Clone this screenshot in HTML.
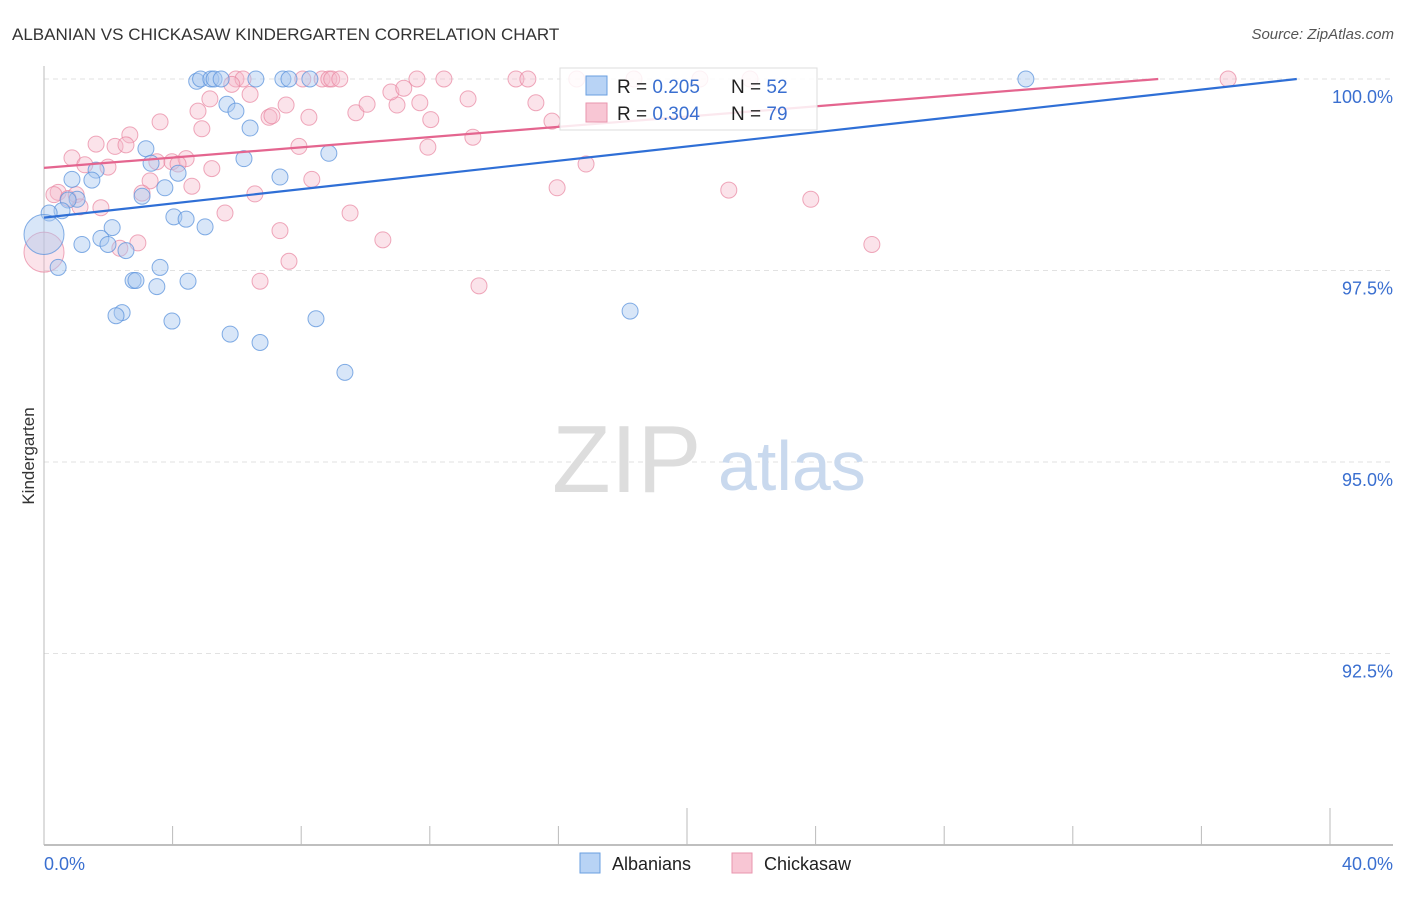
<!DOCTYPE html>
<html><head><meta charset="utf-8"><style>
body{margin:0;background:#fff;font-family:"Liberation Sans",sans-serif}
svg text{font-family:"Liberation Sans",sans-serif}
</style></head><body>
<svg id="c" width="1406" height="892" xmlns="http://www.w3.org/2000/svg">
<text x="12" y="40" font-size="17" fill="#333">ALBANIAN VS CHICKASAW KINDERGARTEN CORRELATION CHART</text>
<text x="1394" y="39" font-size="15" fill="#555" text-anchor="end" font-style="italic">Source: ZipAtlas.com</text>
<text x="34" y="456" font-size="17" fill="#333" text-anchor="middle" transform="rotate(-90 34 456)">Kindergarten</text>
<g id="grid"></g>
<text x="552" y="492" font-size="96" fill="#ddd" font-family="Liberation Serif">ZIP</text>
<text x="718" y="490" font-size="70" fill="#c9d9ee">atlas</text>
<g id="pts"></g>
<g id="lines"></g>
<g>
<rect x="560" y="68" width="257" height="62" fill="#fff" fill-opacity="0.85" stroke="#ddd"/>
<rect x="586" y="76" width="21" height="19" fill="#b8d3f5" stroke="#6a9fe0"/>
<rect x="586" y="103" width="21" height="19" fill="#f8c6d4" stroke="#e995ae"/>
<text x="617" y="93" font-size="19" fill="#222">R = <tspan fill="#3a6fd0">0.205</tspan></text>
<text x="731" y="93" font-size="19" fill="#222">N = <tspan fill="#3a6fd0">52</tspan></text>
<text x="617" y="120" font-size="19" fill="#222">R = <tspan fill="#3a6fd0">0.304</tspan></text>
<text x="731" y="120" font-size="19" fill="#222">N = <tspan fill="#3a6fd0">79</tspan></text>
</g>
<g>
<rect x="580" y="853" width="20" height="20" fill="#b8d3f5" stroke="#6a9fe0"/>
<text x="612" y="870" font-size="18" fill="#222">Albanians</text>
<rect x="732" y="853" width="20" height="20" fill="#f8c6d4" stroke="#e995ae"/>
<text x="764" y="870" font-size="18" fill="#222">Chickasaw</text>
</g>
</svg>
<script>
const xTicks=[0,4,8,12,16,20,24,28,32,36,40];
const yTicks=[100,97.5,95,92.5];
const yTickLabels=["100.0%","97.5%","95.0%","92.5%"];
const xLabels=["0.0%","40.0%"];
const albX=[4.75,4.87,5.19,5.29,5.51,6.59,7.43,7.62,8.27,30.54,5.69,5.97,6.41,6.22,8.86,7.34,3.17,3.33,4.17,3.76,3.05,1.62,1.49,0.87,1.03,0.75,0.56,0.16,0,4.04,4.42,5.01,2.12,1.77,1.18,1.99,2.55,0.44,3.61,2.77,2.86,3.51,4.48,18.23,2.43,2.24,3.98,8.46,5.79,6.72,9.36];
const albY=[99.97,100,100,100,100,100,100,100,100,100,99.67,99.58,99.36,98.96,99.03,98.72,99.09,98.9,98.77,98.58,98.47,98.81,98.68,98.69,98.43,98.42,98.28,98.25,97.97,98.2,98.17,98.07,98.06,97.92,97.84,97.84,97.76,97.54,97.54,97.37,97.37,97.29,97.36,96.97,96.95,96.91,96.84,96.87,96.67,96.56,96.17];
const albR=[8,8,8,8,8,8,8,8,8,8,8,8,8,8,8,8,8,8,8,8,8,8,8,8,8,8,8,8,20,8,8,8,8,8,8,8,8,8,8,8,8,8,8,8,8,8,8,8,8,8,8];
const chkX=[5.97,6.19,8.05,8.65,8.86,8.95,9.2,11.6,12.44,14.68,15.05,16.57,18.35,20.4,21.96,36.83,5.16,4.79,5.84,6.41,7.53,7.0,7.09,8.24,9.7,10.05,10.98,10.79,11.19,11.69,12.03,13.19,15.3,15.8,3.61,4.91,2.67,1.62,2.21,2.55,5.22,7.93,11.94,13.34,16.86,0.87,1.27,1.99,3.51,3.98,4.42,4.17,3.3,4.6,8.33,15.96,21.3,23.85,0.44,0.31,0.75,1.0,1.12,1.77,3.05,6.56,5.63,9.52,7.34,10.54,25.75,2.92,2.36,0,7.62,6.72,13.53];
const chkY=[100,100,100,100,100,100,100,100,100,100,100,100,100,100,100,100,99.74,99.58,99.93,99.8,99.66,99.5,99.52,99.5,99.56,99.67,99.66,99.83,99.88,99.69,99.47,99.74,99.69,99.45,99.44,99.35,99.27,99.15,99.12,99.14,98.83,99.12,99.11,99.24,98.89,98.97,98.88,98.85,98.92,98.92,98.96,98.89,98.67,98.6,98.69,98.58,98.55,98.43,98.52,98.49,98.44,98.49,98.33,98.32,98.51,98.5,98.25,98.25,98.02,97.9,97.84,97.86,97.79,97.74,97.62,97.36,97.3];
const chkR=chkY.map((v,i)=>chkX[i]===0?20:8);
const X0=44,X1=1330,Y100=79,PXPER=76.6;
const xs=v=>X0+(v/40)*(X1-X0);
const ys=v=>Y100+(100-v)*PXPER;
const NS="http://www.w3.org/2000/svg";
function mk(t,a,p){const e=document.createElementNS(NS,t);for(const k in a)e.setAttribute(k,a[k]);p.appendChild(e);return e;}
const grid=document.getElementById('grid');
yTicks.forEach((t,i)=>{
 const l=mk('line',{x1:X0,x2:1393,y1:ys(t),y2:ys(t),stroke:'#e2e2e2','stroke-dasharray':'5,4'},grid);
 
 
 const tx=mk('text',{x:1393,y:ys(t)+24,'font-size':18,fill:'#3a6fd0','text-anchor':'end'},grid);
 tx.textContent=yTickLabels[i];
 
 
});
const ax=mk('line',{x1:X0,x2:1393,y1:845,y2:845,stroke:'#aaa','stroke-width':1.5},grid);


const ay=mk('line',{x1:X0,x2:X0,y1:66,y2:845,stroke:'#bbb'},grid);


xTicks.forEach(t=>{
 const major=(t===20||t===40);
 const l=mk('line',{x1:xs(t),x2:xs(t),y1:major?808:826,y2:845,stroke:'#bbb'},grid);
 
 
});
[[0,'start',44],[40,'end',1393]].forEach((d,i)=>{
 const tx=mk('text',{x:d[2],y:870,'font-size':18,fill:'#3a6fd0','text-anchor':d[1]},grid);
 tx.textContent=xLabels[i];
 
 
});
const pts=document.getElementById('pts');
chkX.forEach((v,i)=>{
 const c=mk('circle',{cx:xs(v),cy:ys(chkY[i]),r:chkR[i],fill:'#f6b8ca','fill-opacity':0.4,stroke:'#e8859f','stroke-opacity':0.7},pts);
 
 
});
albX.forEach((v,i)=>{
 const c=mk('circle',{cx:xs(v),cy:ys(albY[i]),r:albR[i],fill:'#a9c8f0','fill-opacity':0.45,stroke:'#5b93dc','stroke-opacity':0.75},pts);
 
 
});
const lines=document.getElementById('lines');
function trend(a,b,col,name){
 let xe=40;if(a+b*40>100)xe=(100-a)/b;
 const d=`M${xs(0)},${ys(a)} L${xs(xe)},${ys(Math.min(100,a+b*xe))}`;
 const p=mk('path',{d:d,stroke:col,'stroke-width':2.2,fill:'none'},lines);
 
 
}
trend(98.19,0.04645,'#2f6fd6','albanian-trendline');
trend(98.84,0.03347,'#e4658f','chickasaw-trendline');
</script>
</body></html>
